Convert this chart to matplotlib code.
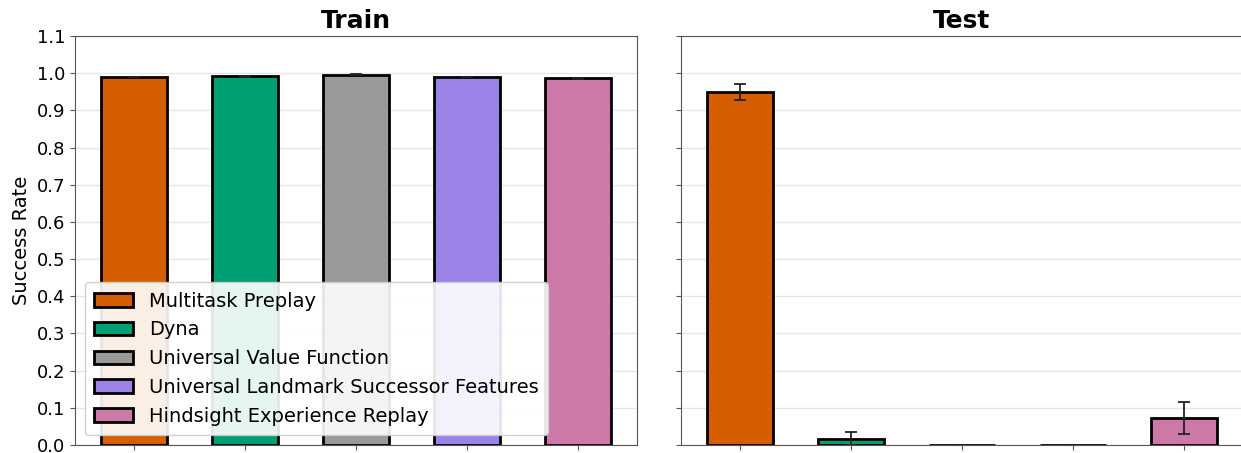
import numpy as np
import matplotlib.pyplot as plt
from matplotlib.patches import Patch

methods = ["Multitask Preplay", "Dyna", "Universal Value Function",
           "Universal Landmark Successor Features", "Hindsight Experience Replay"]
colors = ["#D55E00", "#009E73", "#999999", "#9B82E6", "#CC79A7"]

train_mean = [0.990, 0.992, 0.996, 0.990, 0.986]
train_err = [0.001, 0.001, 0.001, 0.001, 0.002]
test_mean = [0.950, 0.017, 0.0, 0.0, 0.073]
test_err = [0.022, 0.018, 0.0, 0.0, 0.043]

yticks = np.round(np.arange(0, 1.11, 0.1), 1)

fig = plt.figure(figsize=(12.41, 4.53), dpi=100)
ax_train = fig.add_axes([75 / 1241, 8 / 453, 562 / 1241, 409 / 453])
ax_test = fig.add_axes([681 / 1241, 8 / 453, 562 / 1241, 409 / 453])


def draw_panel(ax, means, errs, title):
    x = np.arange(len(means))
    ax.bar(x, means, width=0.6, color=colors, edgecolor="black", linewidth=2,
           yerr=errs, capsize=4,
           error_kw=dict(ecolor="#222222", elinewidth=1.3, capthick=1.3))
    ax.set_title(title, fontsize=18, fontweight="bold")
    ax.set_ylim(0, 1.1)
    ax.set_yticks(yticks)
    ax.set_xticks(x)
    ax.set_xticklabels([])
    ax.grid(axis="y", color="#e6e6e6", linewidth=1)
    ax.set_axisbelow(True)
    for s in ax.spines.values():
        s.set_color("#555555")
    ax.tick_params(colors="#555555", labelcolor="black", labelsize=13)


draw_panel(ax_train, train_mean, train_err, "Train")
draw_panel(ax_test, test_mean, test_err, "Test")
ax_test.set_yticklabels([])
ax_train.set_ylabel("Success Rate", fontsize=14)

handles = [Patch(facecolor=c, edgecolor="black", linewidth=2) for c in colors]
ax_train.legend(handles, methods, loc="lower left", fontsize=14,
                handlelength=2.0, framealpha=0.9, borderpad=0.5)

fig.savefig("out.png", dpi=100)
